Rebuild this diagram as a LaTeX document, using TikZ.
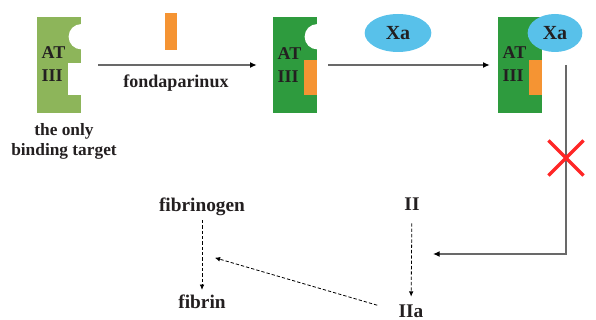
\documentclass[tikz,border=0pt]{standalone}
\usepackage{fontspec}
\setmainfont{Liberation Serif}
\usetikzlibrary{positioning,calc,arrows.meta,shapes.geometric,shapes.misc}
\definecolor{atlight}{RGB}{141,181,90}
\definecolor{atdark}{RGB}{46,155,62}
\definecolor{fonda}{RGB}{245,148,51}
\definecolor{xablue}{RGB}{88,193,234}
\definecolor{txt}{RGB}{35,31,32}
\definecolor{wire}{RGB}{105,105,105}
\tikzset{
    every node/.style={font=\fontsize{13.5}{17}\selectfont\bfseries, text=txt},
    factor/.style={font=\fontsize{14.5}{17}\selectfont\bfseries},
    atblock/.style={minimum width=33pt, minimum height=72pt, inner sep=0pt},
    atlabel/.style={align=left, inner sep=0pt},
    xaoval/.style={ellipse, fill=xablue, inner sep=0pt, minimum height=28.5pt, font=\fontsize{15}{17}\selectfont\bfseries},
    drug/.style={fill=fonda, inner sep=0pt, minimum width=9pt, minimum height=27.75pt},
    arrow/.style={-{Latex[length=5pt,width=4.5pt,color=black]}, draw=wire, line width=1pt},
    dasharrow/.style={-{Latex[length=4pt,width=3.5pt]}, dash pattern=on 2.5pt off 1.5pt, line width=0.6pt},
    stopmark/.style={cross out, draw=red!85!white, line width=2.4pt, minimum size=24pt, inner sep=0pt},
}

\begin{document}
\begin{tikzpicture}[x=0.75pt, y=-0.75pt]
\useasboundingbox (0,0) rectangle (596,320);
% free antithrombin III with its two binding pockets
   \node[atblock, fill=atlight] (b1) at (59,65) {};
   \fill[white] ($(b1.north east)+(0,20)$) circle[radius=9.5pt];
   \fill[white] ($(b1.north east)+(-13,46)$) rectangle ($(b1.north east)+(0,78)$);
   \node[atlabel] (l1) at (53.5,64) {AT\\III};
   \node[align=center, inner sep=0pt, font=\fontsize{13}{15}\selectfont\bfseries] (note) at (64,141) {the only\\binding target};
   \node[drug] (fx) at (171,31.5) {};
% antithrombin III with fondaparinux bound
   \node[atblock, fill=atdark] (b2) at (295,65) {};
   \fill[white] ($(b2.north east)+(0,20)$) circle[radius=9.5pt];
   \fill[fonda] ($(b2.north east)+(-13,43)$) rectangle ($(b2.north east)+(0,78)$);
   \node[atlabel] (l2) at (289.5,65) {AT\\III};
   \node[xaoval, minimum width=50pt] (xa1) at (398,33) {Xa};
% complex with Xa caught
   \node[atblock, fill=atdark] (b3) at (520,65) {};
   \fill[fonda] ($(b3.north east)+(-13,43)$) rectangle ($(b3.north east)+(0,78)$);
   \node[atlabel] (l3) at (514.5,64) {AT\\III};
   \node[xaoval, minimum width=41pt] (xa2) at (555,33) {Xa};
   \draw[arrow, shorten <=12.75pt, shorten >=12pt] (b1) -- (b2);
   \node (fname) at (176,83) {fondaparinux};
   \draw[arrow, shorten <=8.25pt, shorten >=6pt] (b2) -- (b3);
% blocked route down to the coagulation cascade
   \coordinate (turn) at (566,254);
   \coordinate (join) at (433,254);
   \draw[arrow] (b3.east -| turn) -- (turn) -- (join);
   \node[stopmark] (stop) at (566,158) {};
   \node[factor] (fbg) at (202,206.5) {fibrinogen};
   \node[factor] (fbn) at (202,301.5) {fibrin};
   \node[factor] (ii) at (412,204) {II};
   \node[factor, inner sep=1pt] (iia) at (411,311) {IIa};
   \coordinate (conv) at ($(fbg)!0.5!(fbn)$);
   \draw[dasharrow] (fbg) -- (fbn);
   \draw[dasharrow, shorten <=6.2pt, shorten >=4.7pt] (ii) -- (iia);
   \draw[dasharrow, shorten <=15.5pt, shorten >=10pt] (iia.west) -- (conv);
\end{tikzpicture}
\end{document}
